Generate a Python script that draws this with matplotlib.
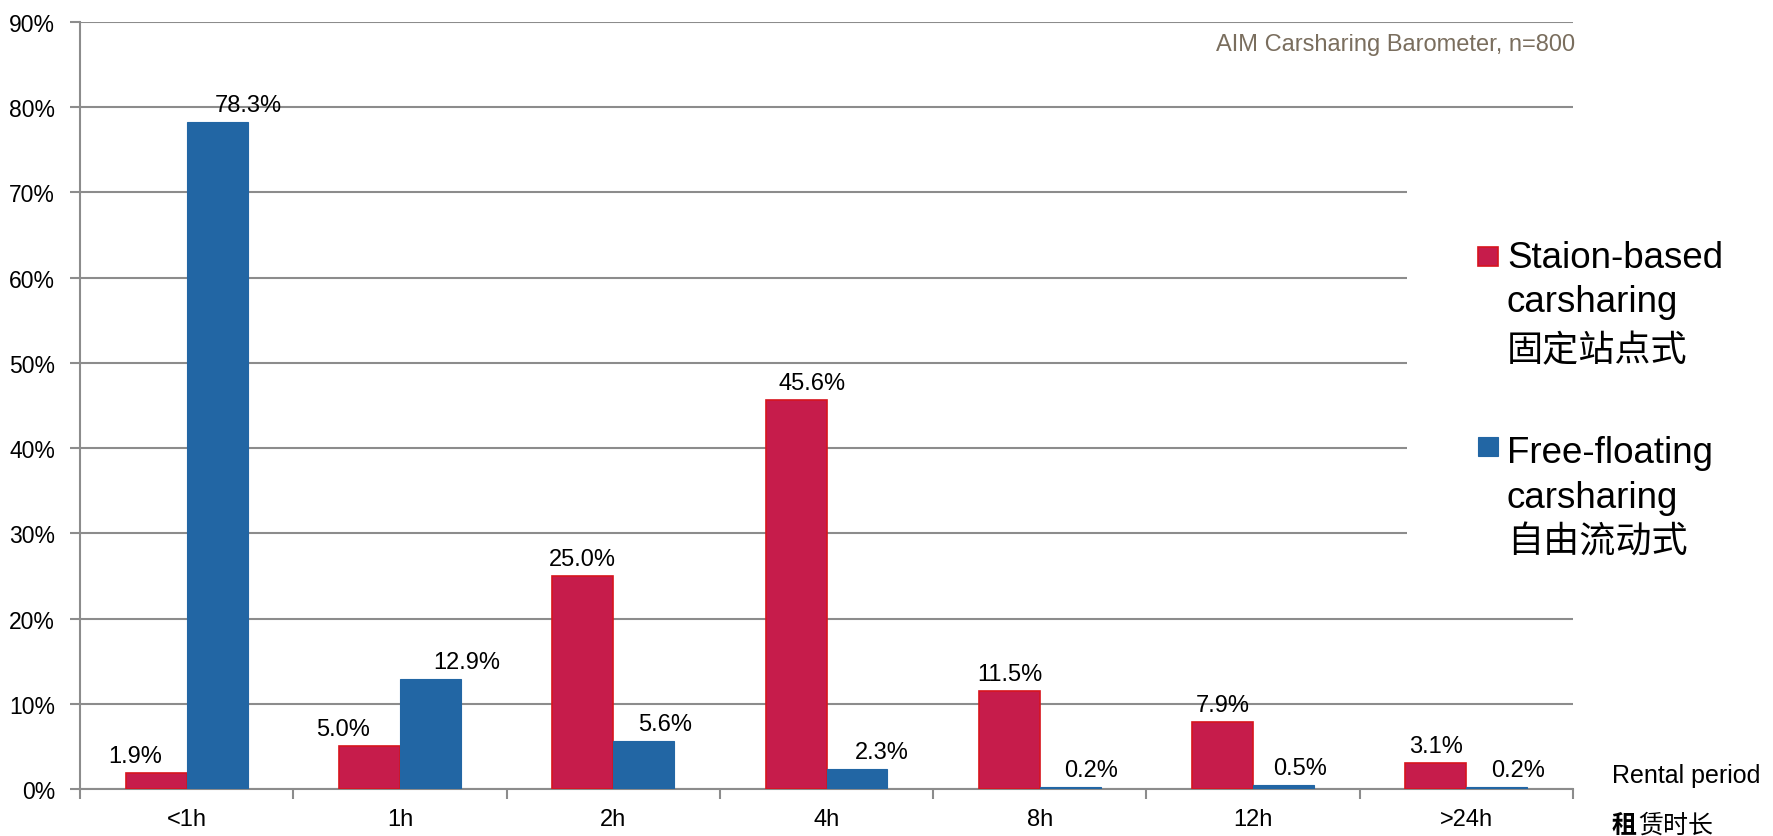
import numpy as np
import matplotlib
matplotlib.use("Agg")
import matplotlib.pyplot as plt
from matplotlib.patches import Rectangle

plt.rcParams['font.family'] = ['Liberation Sans', 'Noto Sans CJK SC', 'DejaVu Sans']

# rental period categories and share of trips (%)
periods = ["<1h", "1h", "2h", "4h", "8h", "12h", ">24h"]
station_based = [1.9, 5.0, 25.0, 45.6, 11.5, 7.9, 3.1]
free_floating = [78.3, 12.9, 5.6, 2.3, 0.2, 0.5, 0.2]

# horizontal nudges (pixels) for the value labels
station_dx = [-21, -26, 0, 16, 1, 0, 0]
free_dx = [31, 36, 21, 25, 21, 16, 21]

red = "#C61C4B"
red_edge = "#D7141E"
blue = "#2266A4"
grid_gray = "#8C8C8C"

fig = plt.figure(figsize=(17.73, 8.37), dpi=100)
ax = fig.add_axes([80 / 1773, 1 - 790 / 837, 1493 / 1773, 767 / 837])

x = np.arange(len(periods))
w = 0.286
ax.bar(x - w / 2, station_based, w, color=red, edgecolor=red_edge, linewidth=1.2, zorder=3)
ax.bar(x + w / 2, free_floating, w, color=blue, edgecolor=blue, linewidth=0.8, zorder=3)

for xi, v, dx in zip(x - w / 2, station_based, station_dx):
    ax.annotate(f"{v:.1f}%", (xi, v), xytext=(dx, 11), textcoords="offset pixels",
                ha="center", va="baseline", fontsize=17, zorder=4)
for xi, v, dx in zip(x + w / 2, free_floating, free_dx):
    ax.annotate(f"{v:.1f}%", (xi, v), xytext=(dx, 11), textcoords="offset pixels",
                ha="center", va="baseline", fontsize=17, zorder=4)

ax.set_xlim(-0.5, len(periods) - 0.5)
ax.set_ylim(0, 90)
ax.set_yticks(np.arange(0, 91, 10))
ax.set_yticklabels([f"{t}%" for t in range(0, 91, 10)], fontsize=16.5)
ax.yaxis.grid(True, color=grid_gray, linewidth=1.5, zorder=0)
ax.set_axisbelow(True)

# group boundaries as tick marks, category names centred in between
ax.set_xticks(np.arange(-0.5, len(periods), 1.0))
ax.set_xticklabels([])
ax.set_xticks(x, minor=True)
ax.set_xticklabels(periods, minor=True, fontsize=17)
ax.tick_params(axis="x", which="minor", length=0, pad=13.5)
ax.tick_params(axis="x", which="major", length=7, width=1.5, color=grid_gray)
ax.tick_params(axis="y", length=7, width=1.5, color=grid_gray, pad=11)

for side in ["top", "right"]:
    ax.spines[side].set_visible(False)
for side in ["left", "bottom"]:
    ax.spines[side].set_color(grid_gray)
    ax.spines[side].set_linewidth(1.5)

# white block behind the legend hides the gridlines there
ax.add_patch(Rectangle((5.72, 25), 5, 50, facecolor="white",
                       edgecolor="none", zorder=1, clip_on=False))

fig.text(1575 / 1773, 1 - 45 / 837, "AIM Carsharing Barometer, n=800",
         ha="right", va="center", fontsize=17, color="#7A6E5E")

# legend drawn by hand
fig.patches.append(Rectangle((1478 / 1773, 1 - 267 / 837), 20 / 1773, 19 / 837,
                             facecolor=red, edgecolor=red_edge, linewidth=1.2,
                             transform=fig.transFigure))
fig.patches.append(Rectangle((1478 / 1773, 1 - 457 / 837), 20 / 1773, 19 / 837,
                             facecolor=blue, edgecolor=blue, linewidth=0.8,
                             transform=fig.transFigure))
lx = 1507 / 1773
fig.text(lx, 1 - 268 / 837, "Staion-based", fontsize=26.5, va="baseline")
fig.text(lx, 1 - 312 / 837, "carsharing", fontsize=26.5, va="baseline")
fig.text(lx, 1 - 352 / 837, "固定站点式", fontsize=26, va="center")
fig.text(lx, 1 - 463 / 837, "Free-floating", fontsize=26.5, va="baseline")
fig.text(lx, 1 - 508 / 837, "carsharing", fontsize=26.5, va="baseline")
fig.text(lx, 1 - 543 / 837, "自由流动式", fontsize=26, va="center")

# axis title at the lower right
fig.text(1612 / 1773, 1 - 783 / 837, "Rental period", fontsize=18, va="baseline")
fig.text(1612 / 1773, 1 - 826 / 837, "租", fontsize=18, va="center", fontweight="bold")
fig.text(1638 / 1773, 1 - 826 / 837, "赁时长", fontsize=18, va="center")

fig.savefig("out.png", dpi=100)
